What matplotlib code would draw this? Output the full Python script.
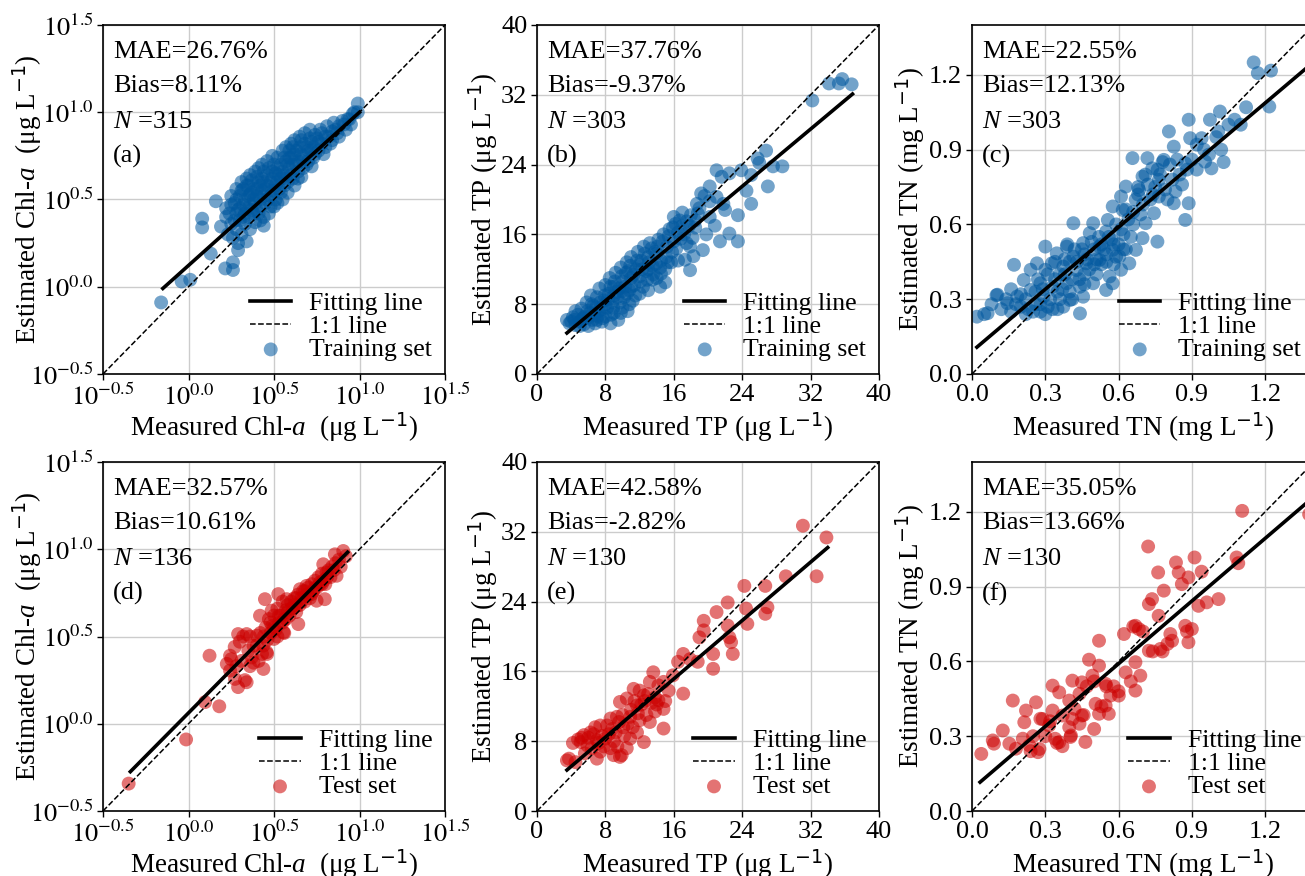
import numpy as np
import matplotlib.pyplot as plt
from matplotlib.lines import Line2D

plt.rcParams['font.family'] = 'Liberation Serif'
plt.rcParams['mathtext.fontset'] = 'custom'
plt.rcParams['mathtext.rm'] = 'DejaVu Sans'
plt.rcParams['mathtext.it'] = 'Liberation Serif:italic'

# ---- data (measured, estimated) ----
# Chl-a values are log10(ug/L)
chla_train = np.array([
    (-0.16, -0.09), (-0.04, 0.03), (0.01, 0.04), (0.13, 0.19), (0.08, 0.39), (0.08, 0.34),
    (0.16, 0.49), (0.215, 0.105), (0.26, 0.096), (0.26, 0.14), (0.29, 0.21), (0.34, 0.26),
    (0.19, 0.345), (0.44, 0.35), (0.99, 1.05), (0.99, 1.0),
    (0.22, 0.40), (0.22, 0.45), (0.23, 0.30), (0.25, 0.36), (0.25, 0.47), (0.25, 0.52), (0.26, 0.28),
    (0.28, 0.33), (0.28, 0.42), (0.28, 0.50), (0.28, 0.56), (0.29, 0.25),
    (0.30, 0.38), (0.30, 0.45), (0.31, 0.55), (0.31, 0.60), (0.31, 0.30),
    (0.33, 0.36), (0.33, 0.42), (0.33, 0.50), (0.34, 0.58), (0.34, 0.62),
    (0.35, 0.40), (0.36, 0.47), (0.36, 0.53), (0.36, 0.64), (0.36, 0.33),
    (0.38, 0.42), (0.38, 0.50), (0.38, 0.56), (0.39, 0.66), (0.39, 0.37),
    (0.40, 0.44), (0.40, 0.52), (0.41, 0.60), (0.41, 0.68), (0.42, 0.38),
    (0.42, 0.46), (0.43, 0.55), (0.43, 0.62), (0.43, 0.70), (0.44, 0.40),
    (0.45, 0.48), (0.45, 0.56), (0.46, 0.64), (0.46, 0.72), (0.47, 0.42),
    (0.48, 0.52), (0.48, 0.60), (0.49, 0.66), (0.49, 0.75), (0.50, 0.46),
    (0.50, 0.55), (0.51, 0.58), (0.51, 0.65), (0.52, 0.74), (0.52, 0.48),
    (0.53, 0.56), (0.54, 0.62), (0.54, 0.70), (0.55, 0.78), (0.55, 0.50),
    (0.56, 0.58), (0.56, 0.64), (0.57, 0.72), (0.57, 0.80), (0.58, 0.54),
    (0.58, 0.60), (0.59, 0.68), (0.59, 0.74), (0.60, 0.82),
    (0.61, 0.62), (0.61, 0.70), (0.62, 0.76), (0.62, 0.84), (0.62, 0.58),
    (0.64, 0.66), (0.64, 0.72), (0.65, 0.80), (0.65, 0.86),
    (0.67, 0.68), (0.67, 0.75), (0.68, 0.82), (0.68, 0.88), (0.66, 0.63),
    (0.70, 0.72), (0.70, 0.78), (0.71, 0.85), (0.71, 0.90),
    (0.73, 0.74), (0.73, 0.80), (0.74, 0.87), (0.72, 0.69),
    (0.76, 0.78), (0.76, 0.83), (0.77, 0.90), (0.80, 0.80), (0.80, 0.86), (0.81, 0.92), (0.79, 0.76),
    (0.84, 0.84), (0.84, 0.89), (0.85, 0.94), (0.88, 0.86), (0.88, 0.92), (0.90, 0.95),
    (0.92, 0.90), (0.93, 0.96), (0.95, 0.93), (0.96, 0.99),
    (0.24, 0.42), (0.27, 0.38), (0.27, 0.48), (0.29, 0.44), (0.30, 0.52), (0.32, 0.40), (0.32, 0.47),
    (0.32, 0.56), (0.34, 0.45), (0.35, 0.52), (0.35, 0.58), (0.37, 0.44), (0.37, 0.54), (0.37, 0.61),
    (0.39, 0.48), (0.40, 0.56), (0.40, 0.63), (0.41, 0.42), (0.42, 0.50), (0.42, 0.58), (0.44, 0.52),
    (0.44, 0.60), (0.44, 0.66), (0.46, 0.50), (0.46, 0.58), (0.47, 0.68), (0.48, 0.46), (0.49, 0.55),
    (0.49, 0.62), (0.50, 0.70), (0.51, 0.50), (0.52, 0.60), (0.52, 0.68), (0.53, 0.64), (0.54, 0.54),
    (0.55, 0.66), (0.56, 0.74), (0.57, 0.62), (0.58, 0.70), (0.59, 0.78), (0.60, 0.64), (0.60, 0.74),
    (0.61, 0.80), (0.63, 0.70), (0.63, 0.78), (0.64, 0.62), (0.66, 0.76), (0.66, 0.84), (0.67, 0.72),
    (0.69, 0.80), (0.69, 0.70), (0.72, 0.83), (0.72, 0.78), (0.74, 0.76), (0.75, 0.85), (0.78, 0.82),
    (0.78, 0.88), (0.82, 0.86), (0.83, 0.82), (0.86, 0.90), (0.87, 0.88), (0.91, 0.93), (0.94, 0.96),
    (0.97, 1.00),
])

tp_train = np.array([
    (34.15, 33.3), (35.7, 33.8), (35.3, 33.3), (36.8, 33.2), (32.2, 31.35),
    (26.8, 25.6), (25.8, 24.7), (28.7, 23.8), (27.6, 23.8), (23.9, 23.35), (25.05, 22.8), (27.0, 21.5),
    (25.05, 19.5), (23.5, 18.2), (22.5, 16.1), (23.5, 15.2), (21.4, 15.2), (21.0, 23.35), (21.6, 22.6),
    (22.5, 23.0), (19.2, 20.7), (20.2, 21.5), (21.0, 20.3), (21.8, 19.5), (20.2, 18.0), (18.7, 19.5),
    (17.9, 14.6), (18.3, 13.5), (17.3, 13.1), (17.9, 11.9), (19.4, 14.2), (26.0, 24.2), (24.5, 21.0),
    (22.0, 18.8), (20.8, 17.0), (19.8, 16.0), (18.5, 16.8), (17.5, 17.5), (17.0, 18.5), (16.2, 17.2),
    (16.8, 15.5), (15.8, 14.0), (16.5, 13.0), (15.3, 12.8), (14.5, 11.5), (15.0, 10.5), (13.5, 10.8),
    (14.4, 10.0),
    (3.5, 6.2), (3.8, 5.8), (4.2, 6.5), (4.5, 5.6), (4.8, 6.8), (5.0, 6.0), (5.2, 7.5), (5.5, 5.7),
    (5.6, 6.6), (5.8, 8.2), (6.0, 5.5), (6.2, 7.0), (6.3, 9.0), (6.5, 6.2), (6.6, 7.8), (6.8, 5.8),
    (7.0, 8.8), (7.1, 6.6), (7.3, 9.8), (7.5, 7.4), (7.6, 6.0), (7.8, 8.4), (8.0, 10.2), (8.0, 6.6),
    (8.2, 7.6), (8.4, 9.2), (8.5, 11.0), (8.6, 5.8), (8.8, 8.2), (9.0, 10.0), (9.0, 7.0), (9.2, 11.6),
    (9.4, 8.8), (9.5, 6.2), (9.6, 9.8), (9.8, 12.2), (10.0, 7.6), (10.0, 10.6), (10.2, 8.8),
    (10.4, 11.6), (10.5, 12.8), (10.6, 7.2), (10.8, 9.6), (11.0, 11.0), (11.0, 13.4), (11.2, 8.4),
    (11.4, 10.2), (11.6, 12.0), (11.8, 14.0), (12.0, 9.2), (12.0, 11.2), (12.2, 13.0), (12.4, 10.0),
    (12.5, 14.6), (12.8, 11.8), (13.0, 13.4), (13.0, 9.6), (13.2, 15.0), (13.5, 12.4), (13.8, 14.0),
    (14.0, 11.0), (14.2, 15.4), (14.5, 13.0), (14.8, 16.0), (15.0, 12.0), (15.2, 14.6), (15.5, 16.6),
    (16.0, 15.2), (16.0, 18.0), (16.5, 16.2), (17.0, 17.0), (17.5, 15.0), (18.0, 18.2), (18.5, 17.6),
    (19.0, 19.0), (19.6, 20.4), (20.2, 19.8), (7.0, 6.2), (8.0, 8.0), (9.0, 9.0), (10.0, 9.5),
    (11.0, 10.0), (12.0, 12.5), (6.0, 6.5), (5.0, 5.5), (4.5, 7.2), (13.0, 12.0), (14.0, 13.8),
    (5.4, 6.4), (5.9, 7.2), (6.4, 8.0), (6.7, 6.8), (7.2, 7.2), (7.4, 8.2), (7.9, 9.0), (8.3, 8.6),
    (8.6, 10.0), (8.9, 7.6), (9.1, 10.6), (9.3, 9.4), (9.7, 8.2), (9.9, 11.2), (10.3, 10.0),
    (10.5, 9.2), (10.7, 11.8), (10.9, 12.4), (11.3, 11.4), (11.5, 9.0), (11.7, 13.0), (12.1, 10.6),
    (12.3, 12.0), (12.6, 13.8), (12.9, 10.8), (13.1, 12.8), (13.4, 14.4), (13.6, 11.4), (13.9, 12.6),
    (14.1, 14.6), (14.4, 12.2), (14.7, 15.2), (15.1, 13.4), (15.4, 15.8), (15.7, 12.8), (15.9, 16.8),
    (16.3, 14.4), (16.7, 17.6), (17.2, 16.0), (17.8, 17.0), (18.2, 15.6), (18.8, 18.4), (6.9, 7.6),
    (7.7, 6.4), (8.7, 6.8), (9.8, 7.0), (10.8, 8.0), (4.0, 6.0), (4.4, 6.2), (5.3, 6.2),
])

tn_train = np.array([
    (1.153, 1.25), (1.17, 1.207), (1.224, 1.217), (1.217, 1.073), (1.122, 1.07),
    (1.015, 1.053), (0.974, 1.02), (1.075, 1.02), (1.008, 0.973), (0.887, 1.02), (0.893, 0.946),
    (0.94, 0.946), (0.806, 0.973), (0.826, 0.912), (1.02, 0.9), (0.954, 0.852), (0.98, 0.825),
    (0.873, 0.845), (0.785, 0.859), (0.718, 0.866), (0.657, 0.866), (0.738, 0.825), (0.765, 0.779),
    (0.698, 0.792), (0.63, 0.752), (0.684, 0.738), (0.765, 0.712), (0.833, 0.732), (0.887, 0.685),
    (0.826, 0.685), (0.873, 0.618), (0.61, 0.712), (0.576, 0.672), (0.617, 0.658), (0.745, 0.645),
    (0.711, 0.605), (0.556, 0.618), (0.496, 0.605), (0.549, 0.571), (0.415, 0.605), (0.482, 0.565),
    (0.455, 0.525), (0.522, 0.511), (0.576, 0.498), (0.603, 0.471), (0.698, 0.545), (0.759, 0.531),
    (0.671, 0.498), (0.644, 0.444), (0.563, 0.391), (0.61, 0.418), (0.522, 0.458), (0.388, 0.511),
    (0.347, 0.484), (0.30, 0.511), (0.415, 0.471), (0.468, 0.444), (0.428, 0.417), (0.374, 0.431),
    (0.327, 0.444), (0.266, 0.444), (0.30, 0.418), (0.24, 0.418), (0.172, 0.438), (0.212, 0.377),
    (0.28, 0.364), (0.388, 0.364), (0.442, 0.35), (0.496, 0.364), (0.576, 0.364), (0.549, 0.337),
    (0.455, 0.31), (0.401, 0.297), (0.293, 0.311), (0.24, 0.337), (0.185, 0.311), (0.145, 0.284),
    (0.104, 0.318), (0.064, 0.244), (0.442, 0.243), (0.374, 0.27), (0.02, 0.23), (0.05, 0.24),
    (0.10, 0.316), (0.12, 0.26), (0.16, 0.25), (0.20, 0.27), (0.22, 0.30), (0.25, 0.25), (0.28, 0.28),
    (0.30, 0.24), (0.32, 0.30), (0.33, 0.26), (0.35, 0.33), (0.36, 0.30), (0.38, 0.40), (0.40, 0.45),
    (0.42, 0.50), (0.44, 0.38), (0.46, 0.48), (0.48, 0.42), (0.50, 0.50), (0.52, 0.55), (0.53, 0.44),
    (0.55, 0.48), (0.57, 0.54), (0.58, 0.44), (0.60, 0.52), (0.62, 0.56), (0.64, 0.62), (0.65, 0.55),
    (0.67, 0.70), (0.68, 0.75), (0.70, 0.68), (0.72, 0.76), (0.74, 0.72), (0.76, 0.82), (0.78, 0.85),
    (0.80, 0.70), (0.82, 0.78), (0.85, 0.80), (0.90, 0.86), (0.92, 0.82), (0.95, 0.90), (1.05, 1.00),
    (0.34, 0.38), (0.26, 0.33), (0.18, 0.28), (0.40, 0.33), (0.46, 0.40), (0.54, 0.50), (0.59, 0.60),
    (0.63, 0.50), (0.66, 0.65),
    (0.08, 0.28), (0.14, 0.30), (0.16, 0.34), (0.20, 0.32), (0.23, 0.26), (0.26, 0.28), (0.27, 0.38),
    (0.29, 0.34), (0.31, 0.27), (0.31, 0.40), (0.33, 0.35), (0.34, 0.45), (0.36, 0.40), (0.37, 0.34),
    (0.38, 0.46), (0.39, 0.52), (0.41, 0.38), (0.43, 0.45), (0.45, 0.50), (0.47, 0.46), (0.49, 0.53),
    (0.51, 0.46), (0.51, 0.40), (0.53, 0.52), (0.55, 0.45), (0.56, 0.55), (0.58, 0.52), (0.59, 0.47),
    (0.61, 0.58), (0.62, 0.50), (0.63, 0.66), (0.66, 0.60), (0.68, 0.72), (0.69, 0.64), (0.71, 0.80),
    (0.73, 0.70), (0.75, 0.75), (0.77, 0.80), (0.79, 0.74), (0.81, 0.84), (0.84, 0.86), (0.86, 0.76),
    (0.88, 0.82), (0.92, 0.92), (0.97, 0.88), (1.00, 0.95), (1.03, 0.85), (1.10, 1.00), (0.41, 0.30),
    (0.35, 0.26), (0.28, 0.25), (0.22, 0.24), (0.46, 0.36), (0.50, 0.44),
])

chla_test = np.array([
    (-0.35, -0.343), (-0.014, -0.09), (0.097, 0.124), (0.18, 0.10), (0.123, 0.39), (0.243, 0.39),
    (0.224, 0.343), (0.272, 0.257), (0.29, 0.21), (0.34, 0.238), (0.38, 0.35), (0.438, 0.314),
    (0.243, 0.305), (0.29, 0.514), (0.34, 0.514), (0.40, 0.505), (0.38, 0.448), (0.438, 0.448),
    (0.457, 0.41), (0.50, 0.486), (0.555, 0.524), (0.418, 0.619), (0.447, 0.714), (0.525, 0.743),
    (0.574, 0.714), (0.632, 0.676), (0.642, 0.571), (0.486, 0.648), (0.69, 0.79), (0.768, 0.81),
    (0.797, 0.714), (0.749, 0.705), (0.807, 0.867), (0.788, 0.914), (0.856, 0.971), (0.905, 0.99),
    (0.866, 0.848), (0.72, 0.743), (0.652, 0.771),
    (0.30, 0.47), (0.32, 0.50), (0.35, 0.42), (0.36, 0.50), (0.37, 0.38), (0.40, 0.45), (0.42, 0.52),
    (0.43, 0.40), (0.45, 0.55), (0.46, 0.48), (0.47, 0.60), (0.48, 0.52), (0.49, 0.56), (0.50, 0.62),
    (0.51, 0.54), (0.52, 0.66), (0.53, 0.58), (0.54, 0.62), (0.55, 0.70), (0.56, 0.60), (0.57, 0.65),
    (0.58, 0.68), (0.59, 0.62), (0.60, 0.70), (0.61, 0.66), (0.62, 0.72), (0.63, 0.64), (0.64, 0.74),
    (0.65, 0.68), (0.66, 0.72), (0.67, 0.76), (0.68, 0.70), (0.69, 0.74), (0.70, 0.78), (0.71, 0.72),
    (0.72, 0.80), (0.73, 0.76), (0.74, 0.82), (0.75, 0.78), (0.76, 0.84), (0.77, 0.80), (0.78, 0.86),
    (0.79, 0.82), (0.80, 0.80), (0.82, 0.88), (0.83, 0.84), (0.84, 0.90), (0.86, 0.92), (0.88, 0.94),
    (0.89, 0.90), (0.92, 0.96), (0.46, 0.40), (0.52, 0.50), (0.56, 0.52), (0.28, 0.33), (0.33, 0.25),
    (0.31, 0.36), (0.27, 0.44), (0.36, 0.33), (0.41, 0.36), (0.25, 0.37),
    (0.44, 0.50), (0.48, 0.58), (0.53, 0.62), (0.57, 0.60), (0.60, 0.66), (0.62, 0.68), (0.66, 0.70),
    (0.70, 0.74), (0.74, 0.78), (0.78, 0.80), (0.81, 0.84), (0.85, 0.88), (0.50, 0.55), (0.55, 0.58),
    (0.58, 0.64), (0.63, 0.72), (0.68, 0.76),
])

tp_test = np.array([
    (31.1, 32.7), (33.85, 31.35), (29.1, 26.9), (32.7, 26.9), (24.25, 25.8), (26.7, 25.8),
    (26.95, 23.35), (26.7, 22.6), (24.45, 23.2), (24.6, 21.45), (22.3, 23.9), (21.0, 22.8),
    (19.5, 21.8), (19.5, 20.7), (19.0, 19.9), (22.3, 21.25), (22.5, 19.9), (22.7, 19.35), (22.9, 18.0),
    (20.6, 18.0), (20.6, 16.3), (17.1, 18.0), (16.5, 17.1), (17.9, 17.4), (18.8, 17.1), (17.1, 13.45),
    (15.9, 15.55), (13.6, 15.9), (13.2, 14.8), (14.8, 14.8), (14.8, 11.7), (14.2, 12.7), (14.8, 9.45),
    (12.5, 13.25), (11.3, 14.0), (10.5, 12.9), (9.7, 12.5), (11.7, 12.1), (12.8, 11.0), (13.2, 10.2),
    (10.9, 10.8), (9.35, 10.8), (8.6, 10.6), (8.2, 9.8), (7.4, 9.8), (6.26, 9.0), (5.5, 8.7),
    (5.1, 7.9), (5.9, 7.5), (7.0, 8.1), (8.0, 8.3), (9.2, 9.0), (10.1, 9.6), (10.9, 8.3), (11.7, 9.0),
    (12.5, 7.9), (8.6, 7.2), (8.97, 6.4), (7.4, 6.8), (3.74, 6.0), (4.5, 5.6), (10.5, 7.2), (9.9, 6.4),
    (3.5, 5.8), (9.7, 6.2),
    (4.2, 7.8), (4.8, 8.2), (5.6, 6.6), (6.0, 8.4), (6.4, 7.2), (6.8, 9.6), (7.0, 6.0), (7.6, 8.6),
    (7.8, 7.4), (8.4, 8.8), (8.8, 9.4), (9.0, 8.0), (9.4, 7.4), (9.6, 10.2), (10.0, 11.0), (10.2, 8.6),
    (10.6, 10.0), (11.0, 11.6), (11.4, 12.6), (11.8, 11.2), (12.0, 13.8), (12.2, 12.2), (12.6, 12.6),
    (13.0, 13.4), (13.4, 12.4), (13.8, 13.0), (14.0, 12.2), (14.2, 14.4), (15.0, 12.6), (15.4, 13.8),
    (12.0, 10.4), (11.2, 9.6), (13.8, 11.4), (6.6, 8.8), (5.2, 8.4), (7.2, 7.8),
])

tn_test = np.array([
    (1.106, 1.204), (0.721, 1.061), (0.835, 0.997), (0.911, 1.017), (0.846, 0.957), (0.94, 0.96),
    (0.886, 0.937), (0.859, 0.91), (0.762, 0.957), (1.083, 1.017), (1.09, 0.994), (0.785, 0.884),
    (0.737, 0.85), (0.724, 0.83), (0.764, 0.783), (0.927, 0.823), (0.961, 0.837), (1.009, 0.85),
    (0.669, 0.743), (0.683, 0.73), (0.622, 0.71), (0.52, 0.683), (0.812, 0.71), (0.873, 0.743),
    (0.819, 0.683), (0.886, 0.677), (0.724, 0.643), (0.771, 0.65), (0.669, 0.597), (0.479, 0.607),
    (0.52, 0.583), (0.411, 0.523), (0.45, 0.516), (0.493, 0.543), (0.547, 0.51), (0.629, 0.556),
    (0.689, 0.543), (0.669, 0.483), (0.33, 0.503), (0.357, 0.476), (0.506, 0.43), (0.547, 0.423),
    (0.567, 0.463), (0.601, 0.463), (0.398, 0.443), (0.262, 0.436), (0.221, 0.403), (0.33, 0.403),
    (0.371, 0.383), (0.411, 0.369), (0.45, 0.383), (0.50, 0.329), (0.405, 0.303), (0.398, 0.336),
    (0.316, 0.343), (0.289, 0.369), (0.214, 0.356), (0.167, 0.443), (0.126, 0.323), (0.085, 0.283),
    (0.153, 0.27), (0.208, 0.29), (0.235, 0.263), (0.276, 0.249), (0.357, 0.276), (0.038, 0.229),
    (0.27, 0.236), (0.348, 0.273), (0.403, 0.297), (0.464, 0.277), (0.457, 0.385), (1.38, 1.19),
    (0.09, 0.27), (0.18, 0.25), (0.25, 0.30), (0.28, 0.37), (0.30, 0.30), (0.32, 0.36), (0.37, 0.26),
    (0.42, 0.41), (0.44, 0.35), (0.47, 0.50), (0.50, 0.52), (0.53, 0.42), (0.55, 0.50), (0.56, 0.39),
    (0.58, 0.50), (0.60, 0.48), (0.65, 0.52), (0.70, 0.72), (0.74, 0.64), (0.78, 0.64), (0.80, 0.67),
    (0.88, 0.72), (0.90, 0.73), (0.66, 0.74), (0.24, 0.24), (0.34, 0.29), (0.44, 0.47), (0.52, 0.39),
])

# fitting lines: slope, intercept, x start, x end (log10 units for Chl-a)
fits = {
    'a': (0.878, 0.122, -0.15, 1.0),
    'b': (0.82, 1.83, 3.5, 36.9),
    'c': (0.83, 0.091, 0.02, 1.40),
    'd': (0.99, 0.062, -0.34, 0.93),
    'e': (0.836, 1.77, 3.5, 34.0),
    'f': (0.838, 0.088, 0.033, 1.40),
}

stats = {
    'a': ('26.76', '8.11', '315'),
    'b': ('37.76', '-9.37', '303'),
    'c': ('22.55', '12.13', '303'),
    'd': ('32.57', '10.61', '136'),
    'e': ('42.58', '-2.82', '130'),
    'f': ('35.05', '13.66', '130'),
}

log_ticks = [-0.5, 0.0, 0.5, 1.0, 1.5]
log_tick_labels = ['$10^{-0.5}$', '$10^{0.0}$', '$10^{0.5}$', '$10^{1.0}$', '$10^{1.5}$']
tp_ticks = [0, 8, 16, 24, 32, 40]
tn_ticks = [0.0, 0.3, 0.6, 0.9, 1.2]

blue = '#00589f'
red = '#cc0000'

W, H = 1305, 876
fig = plt.figure(figsize=(W / 100, H / 100), dpi=100)

col_left = [103, 537, 972]
col_w = 342
row_top = [25, 462]
row_h = 349
ylab_x = [27, 483, 910]      # centre of the y label, pixels
xlab_y = [427, 864]          # centre of the x label, pixels

panels = [
    ('a', chla_train, 'chla', blue, 'Training set'),
    ('b', tp_train, 'tp', blue, 'Training set'),
    ('c', tn_train, 'tn', blue, 'Training set'),
    ('d', chla_test, 'chla', red, 'Test set'),
    ('e', tp_test, 'tp', red, 'Test set'),
    ('f', tn_test, 'tn', red, 'Test set'),
]

xlabels = {
    'chla': 'Measured Chl-$a$  (\u03bcg L$^{-1}$)',
    'tp': 'Measured TP (\u03bcg L$^{-1}$)',
    'tn': 'Measured TN (mg L$^{-1}$)',
}
ylabels = {
    'chla': 'Estimated Chl-$a$  (\u03bcg L$^{-1}$)',
    'tp': 'Estimated TP (\u03bcg L$^{-1}$)',
    'tn': 'Estimated TN (mg L$^{-1}$)',
}

FS = 19

for i, (tag, data, kind, color, setname) in enumerate(panels):
    r, c = divmod(i, 3)
    left = col_left[c] / W
    bottom = 1 - (row_top[r] + row_h) / H
    ax = fig.add_axes([left, bottom, col_w / W, row_h / H])
    ax.set_axisbelow(True)
    ax.grid(True, color='#cccccc', lw=1.0)

    slope, icpt, x0, x1 = fits[tag]
    xs = np.array([x0, x1])
    ys = slope * xs + icpt

    if kind == 'chla':
        mx, my = 10 ** data[:, 0], 10 ** data[:, 1]
        fx, fy = 10 ** xs, 10 ** ys
        lim = (10 ** -0.5, 10 ** 1.5)
        ax.set_xscale('log')
        ax.set_yscale('log')
        ticks = [10 ** t for t in log_ticks]
        ax.set_xticks(ticks, labels=log_tick_labels)
        ax.set_yticks(ticks, labels=log_tick_labels)
        ax.minorticks_off()
        for lab in ax.get_xticklabels() + ax.get_yticklabels():
            lab.set_math_fontfamily('stix')
    else:
        mx, my = data[:, 0], data[:, 1]
        fx, fy = xs, ys
        if kind == 'tp':
            lim = (0, 40)
            ax.set_xticks(tp_ticks)
            ax.set_yticks(tp_ticks)
        else:
            lim = (0, 1.4)
            ax.set_xticks(tn_ticks)
            ax.set_yticks(tn_ticks)
            ax.set_xticklabels([f'{t:.1f}' for t in tn_ticks])
            ax.set_yticklabels([f'{t:.1f}' for t in tn_ticks])

    ax.set_xlim(lim)
    ax.set_ylim(lim)

    sc = ax.scatter(mx, my, s=100, color=color, alpha=0.55, edgecolors='none', zorder=2)
    fl, = ax.plot(fx, fy, color='black', lw=2.6, zorder=3)
    ol, = ax.plot(lim, lim, color='black', lw=1.1, ls='--', zorder=3)

    ax.tick_params(labelsize=FS, direction='out', length=4, width=1, pad=3)
    for sp in ax.spines.values():
        sp.set_linewidth(1.2)

    ax.set_xlabel(xlabels[kind], fontsize=19.5)
    ax.set_ylabel(ylabels[kind], fontsize=19.5)
    ax.xaxis.label.set_va('center')
    ax.yaxis.label.set_va('center')
    ax.yaxis.set_label_coords((ylab_x[c] - col_left[c]) / col_w, 0.5)
    ax.xaxis.set_label_coords(0.5, (row_top[r] + row_h - xlab_y[r]) / row_h)

    mae, bias, n = stats[tag]
    ys_txt = [0.923, 0.825, 0.722, 0.622]
    txts = [f'MAE={mae}%', f'Bias={bias}%', f'$N$ ={n}', f'({tag})']
    for yy, tt in zip(ys_txt, txts):
        ax.text(0.03, yy, tt, transform=ax.transAxes, fontsize=FS, va='center', ha='left')

    ax.legend([fl, ol, sc], ['Fitting line', '1:1 line', setname], loc='lower right',
              frameon=False, fontsize=18.5, handlelength=1.6, handletextpad=0.7,
              labelspacing=0.0, borderpad=0.2, borderaxespad=0.3)

fig.savefig('out.png', dpi=100)
